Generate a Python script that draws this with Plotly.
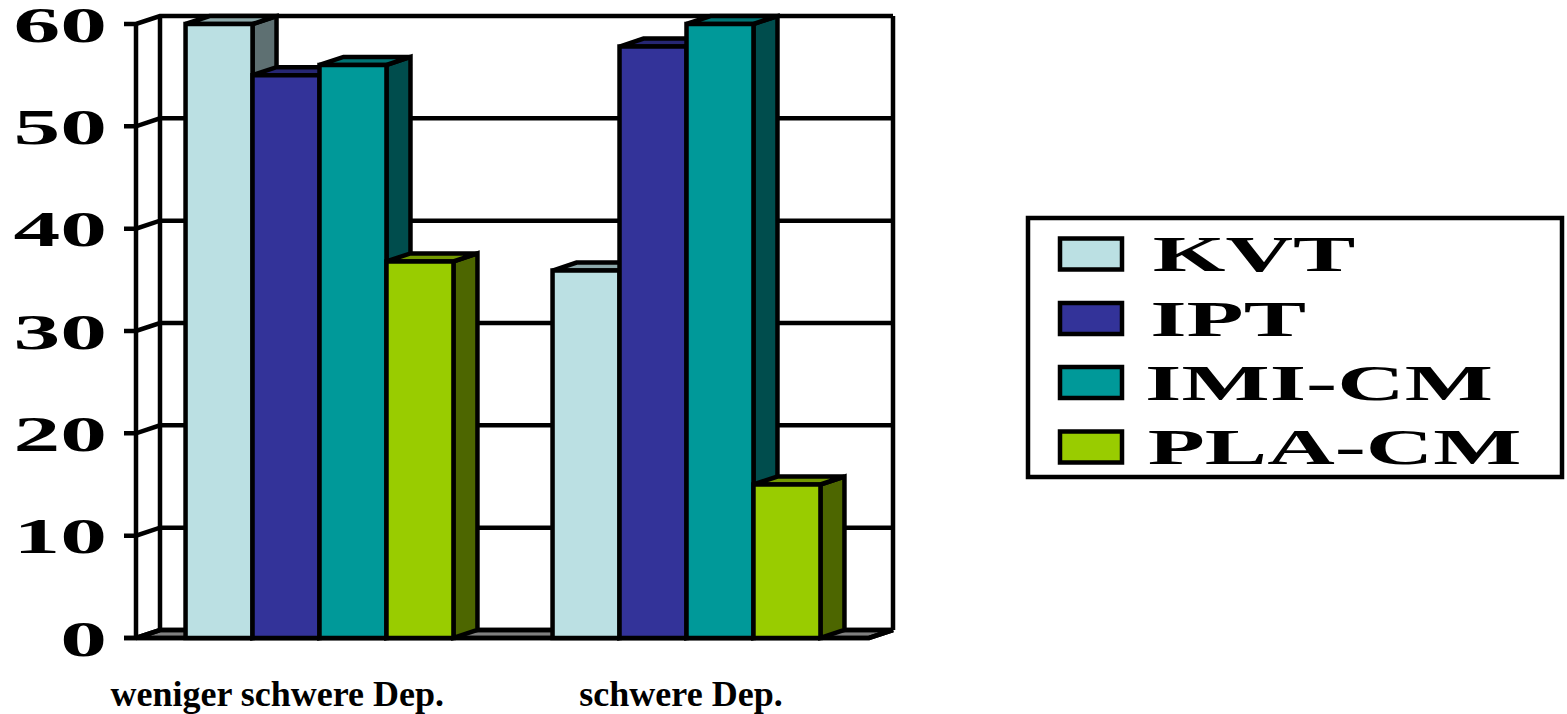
import plotly.graph_objects as go

categories = ["weniger schwere Dep.", "schwere Dep."]
series_names = ["KVT", "IPT", "IMI-CM", "PLA-CM"]
kvt = [60, 35.9]
ipt = [55, 57.8]
imi_cm = [56, 60]
pla_cm = [36.8, 15]
y_ticks = [0, 10, 20, 30, 40, 50, 60]
front_colors = ["#BBE0E3", "#333399", "#009999", "#99CC00"]
top_colors = ["#8CA8AA", "#262673", "#007373", "#739900"]
side_colors = ["#5E7072", "#1A1A4D", "#004D4D", "#4D6600"]
series_values = [kvt, ipt, imi_cm, pla_cm]

W, H = 1567, 714
UNIT_X = 367.0
UNIT_Y = 614 / 60
PLOT_L, PLOT_R, PLOT_T, PLOT_B = 122, 897, 6, 648
X0 = (136 - PLOT_L) / UNIT_X
XMIN, XMAX = -X0, (PLOT_R - 136) / UNIT_X
YMIN, YMAX = -(PLOT_B - 638) / UNIT_Y, (638 - PLOT_T) / UNIT_Y
DX, DY = 24 / UNIT_X, 8 / UNIT_Y
BARGAP = 0.27
BW = (1 - BARGAP) / 4
LW = 4.5
WALL_R = (893 - 136) / UNIT_X
TICK = 12 / UNIT_X


def poly(pts, fill=None, layer="below"):
    d = "M" + " L".join(f"{x:.5f},{y:.5f}" for x, y in pts)
    if fill:
        d += " Z"
    return dict(type="path", path=d, xref="x", yref="y", layer=layer,
                fillcolor=fill or "rgba(0,0,0,0)",
                line=dict(color="black", width=LW))


shapes = []
# floor
shapes.append(poly([(0, 0), (DX, DY), (WALL_R, DY), (WALL_R - DX, 0)], "#808080"))
# grid, ticks and walls
for t in y_ticks:
    shapes.append(poly([(-TICK, t), (0, t), (DX, t + DY), (WALL_R, t + DY)]))
shapes.append(poly([(0, 0), (0, y_ticks[-1])]))
shapes.append(poly([(DX, DY), (DX, y_ticks[-1] + DY)]))
shapes.append(poly([(WALL_R, DY), (WALL_R, y_ticks[-1] + DY)]))
shapes.append(poly([(-TICK, 0), (WALL_R - DX, 0), (WALL_R, DY)]))

# depth faces of each bar, drawn behind the bars themselves
centers = [0.5, 1.5]
for s, vals in enumerate(series_values):
    for c, v in zip(centers, vals):
        x0 = c - 2 * BW + s * BW
        x1 = x0 + BW
        shapes.append(poly([(x1, v), (x1 + DX, v + DY), (x1 + DX, DY), (x1, 0)], side_colors[s]))
        shapes.append(poly([(x0, v), (x0 + DX, v + DY), (x1 + DX, v + DY), (x1, v)], top_colors[s]))

fig = go.Figure()
for name, vals, col in zip(series_names, series_values, front_colors):
    fig.add_bar(name=name, x=centers, y=vals, marker=dict(color=col, line=dict(color="black", width=LW)),
                cliponaxis=False, showlegend=False)


def px(x):
    return (x - PLOT_L) / (PLOT_R - PLOT_L)


def py(y):
    return (PLOT_B - y) / (PLOT_B - PLOT_T)


# legend
shapes.append(dict(type="rect", xref="paper", yref="paper", x0=px(1028), x1=px(1562), y0=py(477), y1=py(218),
                   line=dict(color="black", width=LW), fillcolor="white", layer="above"))
annotations = []
rows = [254, 318.5, 382.5, 447]
for name, col, yc in zip(series_names, front_colors, rows):
    shapes.append(dict(type="rect", xref="paper", yref="paper", x0=px(1060), x1=px(1122), y0=py(yc + 15.5), y1=py(yc - 15.5),
                       line=dict(color="black", width=LW), fillcolor=col, layer="above"))
    annotations.append(dict(text=name, xref="paper", yref="paper", x=px(1157), y=py(yc), xanchor="left", yanchor="middle",
                            showarrow=False, font=dict(family="Liberation Serif", size=50, color="black"),
                            borderpad=0))

fig.update_layout(
    width=W, height=H, autosize=False,
    margin=dict(l=PLOT_L, r=W - PLOT_R, t=PLOT_T, b=H - PLOT_B, pad=0, autoexpand=False),
    paper_bgcolor="white", plot_bgcolor="white",
    barmode="group", bargap=BARGAP, bargroupgap=0,
    shapes=shapes, annotations=annotations, showlegend=False,
    font=dict(family="Liberation Serif", color="black"),
    xaxis=dict(range=[XMIN, XMAX], tickmode="array", tickvals=[0.385, 1.485], ticktext=categories, automargin=False,
               showgrid=False, zeroline=False, showline=False, ticks="", ticklabeloverflow="allow",
               tickfont=dict(family="Liberation Serif", size=36, color="black"), ticklabelstandoff=21),
    yaxis=dict(range=[YMIN, YMAX], tickmode="array", tickvals=y_ticks, automargin=False,
               showgrid=False, zeroline=False, showline=False, ticks="", ticklabeloverflow="allow",
               tickfont=dict(family="Liberation Serif", size=50, color="black"), ticklabelstandoff=14),
)

post = """
document.documentElement.style.overflow='hidden';
document.body.style.overflow='hidden';
document.body.style.margin='0';
document.body.style.height='714px';
function stretch(el, anchorRight){
  var b=el.getBBox(); var ax=anchorRight? b.x+b.width : b.x;
  var t=el.getAttribute('transform')||'';
  el.setAttribute('transform', t+' translate('+ax+',0) scale(1.87,1) translate('+(-ax)+',0)');
  el.style.fontWeight='bold';
}
document.querySelectorAll('.ytick text').forEach(function(e){stretch(e,true);});
document.querySelectorAll('.annotation-text').forEach(function(e){stretch(e,false);});
document.querySelectorAll('.xtick text').forEach(function(e){e.style.fontWeight='bold';});
"""
fig.write_html("out.html", post_script=post, config=dict(responsive=False, displayModeBar=False))
